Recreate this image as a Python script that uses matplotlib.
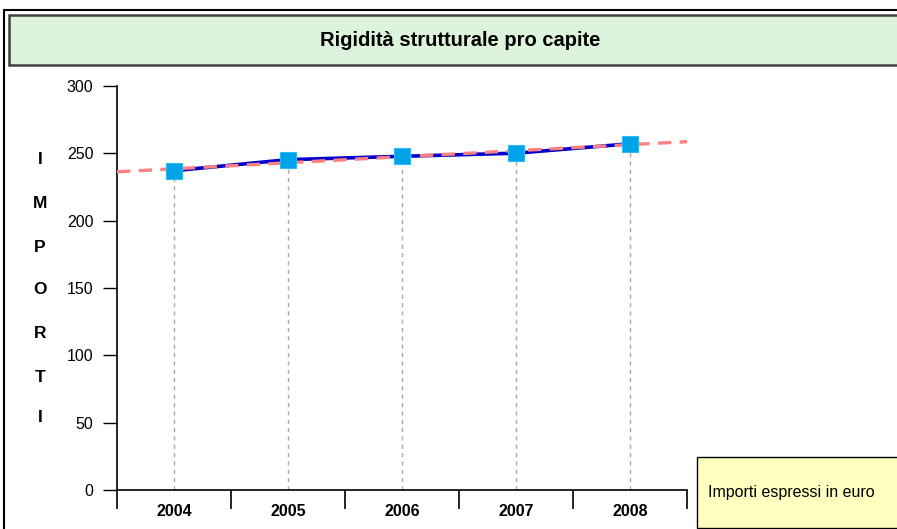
import numpy as np
import matplotlib
matplotlib.use("Agg")
import matplotlib.pyplot as plt
from matplotlib.patches import Rectangle

plt.rcParams['font.family'] = ['Liberation Sans', 'DejaVu Sans']

years = ["2004", "2005", "2006", "2007", "2008"]
values = [237.1, 245.3, 247.8, 250.1, 257.1]
yticks = [0, 50, 100, 150, 200, 250, 300]
title = "Rigidità strutturale pro capite"
ylabel = "IMPORTI"
note = "Importi espressi in euro"

W, H = 897, 529
fig = plt.figure(figsize=(W / 100, H / 100), dpi=100)

def fx(px):
    return px / W

def fy(py):
    return 1 - py / H

# outer frame
fig.patches.append(Rectangle((fx(4), fy(545)), fx(910) - fx(4), fy(10) - fy(545),
                             transform=fig.transFigure, fill=False, edgecolor='black', lw=1.5))
# title band
fig.patches.append(Rectangle((fx(9), fy(65)), fx(915) - fx(9), fy(15) - fy(65),
                             transform=fig.transFigure, facecolor='#DCF3DC', edgecolor='#404040', lw=1.8))
fig.text(fx(460), fy(41), title, ha='center', va='center', fontsize=14.5, fontweight='bold')

# axes
ax = fig.add_axes([fx(117), fy(490), fx(687) - fx(117), fy(86) - fy(490)])
x = np.arange(len(years))
ax.set_xlim(-0.5, len(years) - 0.5)
ax.set_ylim(0, 300)
for s in ['top', 'right']:
    ax.spines[s].set_visible(False)
for s in ['left', 'bottom']:
    ax.spines[s].set_color('black')
    ax.spines[s].set_linewidth(1.2)

ax.set_yticks(yticks)
ax.set_yticklabels([str(v) for v in yticks], fontsize=11.5)
ax.tick_params(axis='y', direction='out', length=10, width=1, pad=7, color='black')

ax.set_xticks(x)
ax.set_xticklabels(years, fontsize=11.5, fontweight='bold')
ax.tick_params(axis='x', which='major', length=0, pad=10)
ax.set_xticks(np.arange(len(years) + 1) - 0.5, minor=True)
ax.tick_params(axis='x', which='minor', direction='out', length=14, width=1.2, color='black')

# drop lines
ax.vlines(x, 0, values, colors='#A8A8A8', linestyles=(0, (3, 3)), lw=1, zorder=1)

# data line
ax.plot(x, values, color='#0000CC', lw=2.6, zorder=3, solid_capstyle='butt')

# trend line
coef = np.polyfit(x, values, 1)
xt = np.array([-0.5, len(years) - 0.5])
ax.plot(xt, np.polyval(coef, xt), color='#FF8080', lw=2.4, linestyle=(0, (4, 2.5)), zorder=4)

# markers
ax.plot(x, values, linestyle='none', marker='s', markersize=12,
        markerfacecolor='#00A2E8', markeredgecolor='#30B8F0', markeredgewidth=0.8, zorder=5)

# vertical y label
letter_y = [160, 204, 248, 290, 334, 377, 418]
for ch, py in zip(ylabel, letter_y):
    fig.text(fx(40), fy(py), ch, ha='center', va='center', fontsize=12.5, fontweight='bold')

# note box
fig.patches.append(Rectangle((fx(697), fy(528)), fx(905) - fx(697), fy(457) - fy(528),
                             transform=fig.transFigure, facecolor='#FFFFC0', edgecolor='black', lw=1))
fig.text(fx(708), fy(493), note, ha='left', va='center', fontsize=11.5)

fig.savefig("out.png", dpi=100)
